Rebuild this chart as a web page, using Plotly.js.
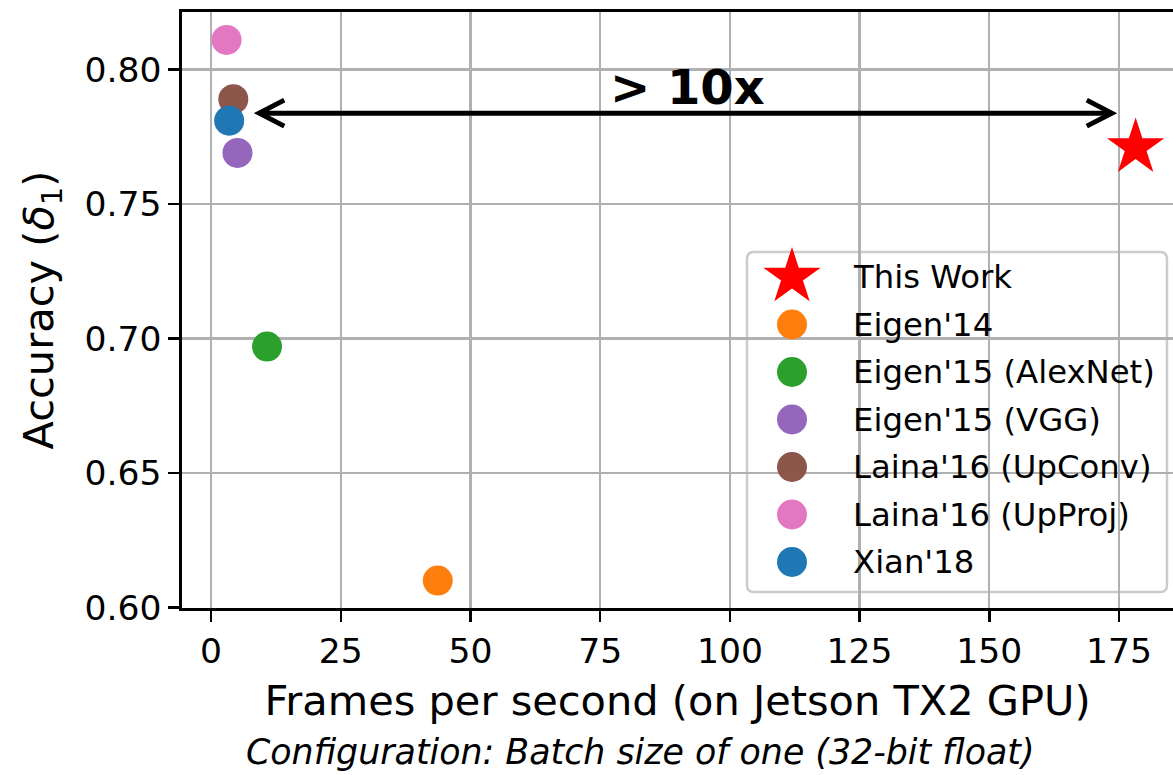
<!DOCTYPE html>
<html>
<head>
<meta charset="utf-8">
<script src="https://cdn.plot.ly/plotly-3.0.1.min.js"></script>
<style>html,body{margin:0;padding:0;background:#fff;}#chart{width:1173px;height:775px;}</style>
</head>
<body>
<div id="chart"></div>
<script>
// ---- data ----
const methods = ["This Work", "Eigen'14", "Eigen'15 (AlexNet)", "Eigen'15 (VGG)", "Laina'16 (UpConv)", "Laina'16 (UpProj)", "Xian'18"];
const fps = [178.2, 43.7, 10.8, 5.1, 4.3, 3.0, 3.5];
const accuracy = [0.771, 0.610, 0.697, 0.769, 0.789, 0.811, 0.781];
const colors = ["#ff0000", "#ff7f0e", "#2ca02c", "#9467bd", "#8c564b", "#e377c2", "#1f77b4"];
const symbols = ["star", "circle", "circle", "circle", "circle", "circle", "circle"];
const sizes = [43, 30, 30, 30, 30, 30, 30];
const xTicks = [0, 25, 50, 75, 100, 125, 150, 175];
const yTicks = [0.60, 0.65, 0.70, 0.75, 0.80];
const arrowFrom = 9.3, arrowTo = 173.6, arrowY = 0.7838;
const speedupLabel = "> 10x";

// ---- geometry ----
const W = 1173, H = 775;
const M = {l: 182, r: 0, t: 12, b: 167};
const xRange = [-5.59, 185.4];
const yRange = [0.5998, 0.8214];
const plotW = W - M.l - M.r, plotH = H - M.t - M.b;
const pxPerX = plotW / (xRange[1] - xRange[0]);
const pxPerY = plotH / (yRange[1] - yRange[0]);
const FONT = "DejaVu Sans";

const traces = methods.map((m, i) => ({
  type: "scatter", mode: "markers", name: m,
  x: [fps[i]], y: [accuracy[i]],
  marker: {symbol: symbols[i], color: colors[i], size: sizes[i], opacity: 1, line: {width: 0}},
  showlegend: false, cliponaxis: false, hoverinfo: "name+x+y"
}));

// custom legend drawn on an overlay axis (category rows)
const legMarkerX = (792 - M.l) / plotW;
const legTextX = (851 - M.l) / plotW;
const rowTop = 277, rowStep = 47.5;
const catRange = [(M.t + plotH - rowTop) / rowStep, (M.t - rowTop) / rowStep];
traces.push({
  type: "scatter", mode: "markers", xaxis: "x2", yaxis: "y2", name: "legend",
  x: methods.map(() => legMarkerX), y: methods,
  marker: {symbol: symbols, color: colors, size: sizes, opacity: 1, line: {width: 0}},
  showlegend: false, hoverinfo: "skip", cliponaxis: false
});

const annotations = methods.map(m => ({
  xref: "x2", yref: "y2", x: legTextX, y: m, text: m, showarrow: false,
  xanchor: "left", yanchor: "middle", font: {family: FONT, size: 32.3, color: "#000"}
}));
annotations.push({
  xref: "x", yref: "y", x: (arrowFrom + arrowTo) / 2 + 0.3, y: arrowY, yshift: 26,
  text: "<b>" + speedupLabel + "</b>", showarrow: false,
  xanchor: "center", yanchor: "middle", font: {family: FONT, size: 48, color: "#000"}
});
annotations.push({
  xref: "paper", yref: "paper", x: (640 - M.l) / plotW, y: (M.t + plotH - 752) / plotH,
  text: "<i>Configuration: Batch size of one (32-bit float)</i>", showarrow: false,
  xanchor: "center", yanchor: "middle", font: {family: FONT, size: 34.8, color: "#000"}
});

// arrow (double-headed, open chevrons)
const headL = 25 / pxPerX, headH = 13 / pxPerY;
const lx0 = (747 - M.l) / plotW, lx1 = (1167 - M.l) / plotW;
const ly0 = (M.t + plotH - 592) / plotH, ly1 = (M.t + plotH - 252) / plotH;
const rx = 7 / plotW, ry = 7 / plotH;
const shapes = [
  {type: "line", xref: "x", yref: "y", x0: arrowFrom + 0.4, x1: arrowTo - 0.4, y0: arrowY, y1: arrowY,
   line: {color: "#000", width: 5}},
  {type: "path", xref: "x", yref: "y",
   path: `M ${arrowFrom + headL} ${arrowY + headH} L ${arrowFrom} ${arrowY} L ${arrowFrom + headL} ${arrowY - headH}`,
   line: {color: "#000", width: 5}},
  {type: "path", xref: "x", yref: "y",
   path: `M ${arrowTo - headL} ${arrowY + headH} L ${arrowTo} ${arrowY} L ${arrowTo - headL} ${arrowY - headH}`,
   line: {color: "#000", width: 5}},
  {type: "path", xref: "paper", yref: "paper", layer: "between",
   path: `M ${lx0 + rx} ${ly0} L ${lx1 - rx} ${ly0} Q ${lx1} ${ly0} ${lx1} ${ly0 + ry} L ${lx1} ${ly1 - ry} Q ${lx1} ${ly1} ${lx1 - rx} ${ly1} L ${lx0 + rx} ${ly1} Q ${lx0} ${ly1} ${lx0} ${ly1 - ry} L ${lx0} ${ly0 + ry} Q ${lx0} ${ly0} ${lx0 + rx} ${ly0} Z`,
   fillcolor: "rgba(255,255,255,0.8)", line: {color: "#cccccc", width: 2.5}}
];

const layout = {
  width: W, height: H, margin: M,
  paper_bgcolor: "#fff", plot_bgcolor: "#fff",
  font: {family: FONT, color: "#000"},
  showlegend: false,
  xaxis: {
    range: xRange, tickmode: "array", tickvals: xTicks, ticktext: xTicks.map(String),
    showgrid: true, gridcolor: "#b0b0b0", gridwidth: 2.2, zeroline: false,
    showline: true, linecolor: "#000", linewidth: 2.6, mirror: true,
    ticks: "outside", ticklen: 11, tickwidth: 2.4, tickcolor: "#000",
    tickfont: {family: FONT, size: 34.6, color: "#000"},
    title: {text: "Frames per second (on Jetson TX2 GPU)", font: {family: FONT, size: 41.5, color: "#000"}, standoff: 16}
  },
  yaxis: {
    range: yRange, tickmode: "array", tickvals: yTicks, ticktext: yTicks.map(v => v.toFixed(2)),
    showgrid: true, gridcolor: "#b0b0b0", gridwidth: 2.2, zeroline: false,
    showline: true, linecolor: "#000", linewidth: 2.6, mirror: false,
    ticks: "outside", ticklen: 11, tickwidth: 2.4, tickcolor: "#000",
    tickfont: {family: FONT, size: 34.6, color: "#000"},
    title: {text: "Accuracy (<i>δ</i><sub>1</sub>)", font: {family: FONT, size: 41.5, color: "#000"}, standoff: 18}
  },
  xaxis2: {overlaying: "x", anchor: "y2", range: [0, 1], visible: false, fixedrange: true},
  yaxis2: {overlaying: "y", anchor: "x2", type: "category", categoryorder: "array", categoryarray: methods,
           range: catRange, visible: false, fixedrange: true},
  shapes: shapes,
  annotations: annotations
};

Plotly.newPlot("chart", traces, layout, {displayModeBar: false, staticPlot: true});
</script>
</body>
</html>
